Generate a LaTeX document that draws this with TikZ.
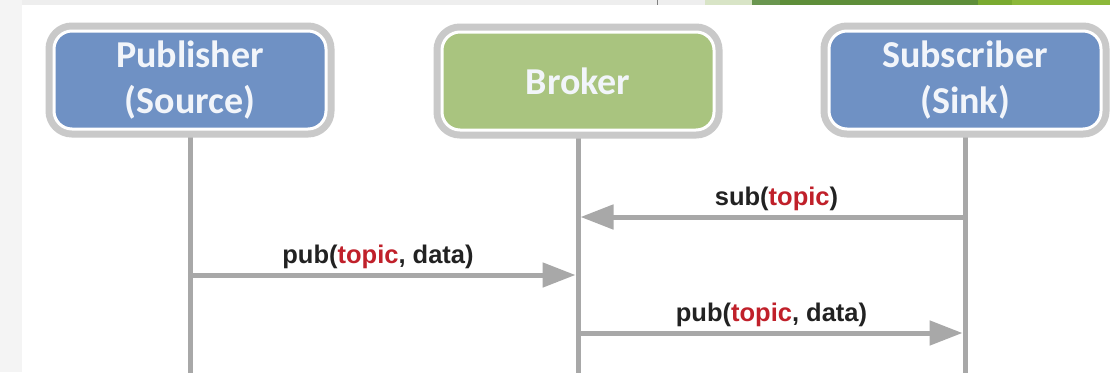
\documentclass[tikz,border=0pt]{standalone}
\usepackage{fontspec}
\setmainfont{Liberation Sans}
\newfontfamily\boxfont{Carlito}
\usetikzlibrary{arrows.meta,backgrounds}
\definecolor{pubblue}{HTML}{6F91C4}
\definecolor{brokergreen}{HTML}{A9C47F}
\definecolor{rimgray}{HTML}{C9C9C9}
\definecolor{linegray}{HTML}{A8A8A8}
\definecolor{topicred}{HTML}{C0202A}
\definecolor{labelblack}{HTML}{222222}
\definecolor{boxtext}{HTML}{F2F5FA}
\definecolor{bandgray}{HTML}{EEEEEE}
\definecolor{stripgray}{HTML}{F4F4F4}
\definecolor{bandA}{HTML}{D8E4C6}
\definecolor{bandB}{HTML}{6A9650}
\definecolor{bandC}{HTML}{5E8E3A}
\definecolor{bandD}{HTML}{7AAA30}
\definecolor{bandE}{HTML}{8CB83A}
\begin{document}
\begin{tikzpicture}[x=1pt,y=-1pt,
  actor/.style={rounded corners=18pt, minimum width=272pt, minimum height=98pt,
    inner sep=0pt, align=center, draw=white, line width=3pt,
    preaction={draw=rimgray, line width=17pt},
    text=boxtext, font=\boxfont\bfseries\fontsize{38}{46}\selectfont},
  life/.style={draw=linegray, line width=5pt},
  msg/.style={draw=linegray, line width=5pt, -{Triangle[length=33pt,width=24pt]}},
  msglabel/.style={midway, yshift=18pt, inner sep=0pt, text=labelblack,
    font=\bfseries\fontsize{25.5}{30}\selectfont}
]
\useasboundingbox (0,0) rectangle (1110,372);

\node[actor, fill=pubblue] (pub) at (190,80) {Publisher\\(Source)};
\node[actor, fill=brokergreen] (brk) at (578,81) {Broker};
\node[actor, fill=pubblue] (sub) at (965,80) {Subscriber\\(Sink)};

\coordinate (pubend) at (190,380);
\coordinate (brkend) at (578,380);
\coordinate (subend) at (965,380);

\begin{scope}[on background layer]
  \fill[white] (0,0) rectangle (1110,372);
  % screenshot edges
  \fill[stripgray] (0,0) rectangle (22,372);
  \fill[bandgray] (22,0) rectangle (705,5);
  \draw[gray, line width=0.8pt] (657,0) -- (657,5);
  \fill[bandA] (705,0) rectangle (752,5);
  \fill[bandB] (752,0) rectangle (780,5);
  \fill[bandC] (780,0) rectangle (978,5);
  \fill[bandD] (978,0) rectangle (1012,5);
  \fill[bandE] (1012,0) rectangle (1110,5);
  \draw[life] (pub.south) -- (pubend);
  \draw[life] (brk.south) -- (brkend);
  \draw[life] (sub.south) -- (subend);
\end{scope}

\coordinate (s1) at (965,217);
\coordinate (b1) at (578,217);
\coordinate (p2) at (190,275);
\coordinate (b2) at (578,275);
\coordinate (b3) at (578,333);
\coordinate (s3) at (965,333);

\draw[msg, shorten >=2.5pt] (s1) -- (b1)
  node[msglabel, xshift=5pt] (l1) {sub(\textcolor{topicred}{topic})};
\draw[msg, shorten >=2.5pt] (p2) -- (b2)
  node[msglabel, xshift=-6pt] (l2) {pub(\textcolor{topicred}{topic}, data)};
\draw[msg, shorten >=2.5pt] (b3) -- (s3)
  node[msglabel] (l3) {pub(\textcolor{topicred}{topic}, data)};
\end{tikzpicture}
\end{document}
